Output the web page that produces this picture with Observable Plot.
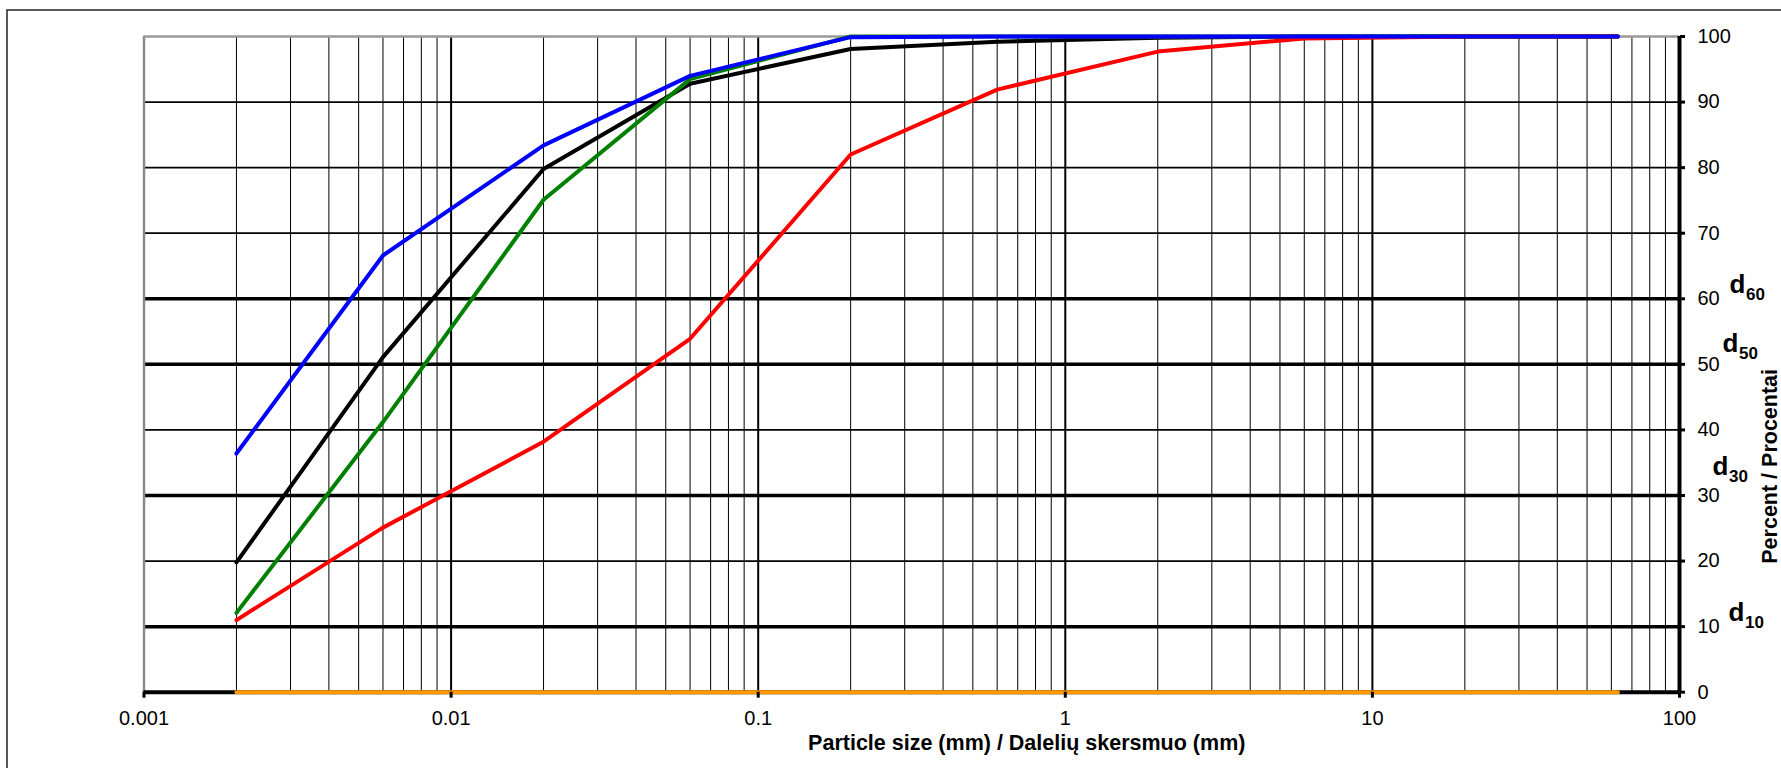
<!DOCTYPE html>
<html><head><meta charset="utf-8">
<script src="https://cdn.jsdelivr.net/npm/d3@7"></script>
<script src="https://cdn.jsdelivr.net/npm/@observablehq/plot@0.6"></script>
<style>
body{margin:0;background:#fff;}
#chart{position:relative;width:1781px;height:768px;overflow:hidden;}
</style>
</head><body><div id="chart"></div>
<script>
// ---- data ----
const sizes = [0.002, 0.006, 0.02, 0.06, 0.2, 0.6, 2, 6, 20, 63];
const blackSeries = [19.8, 51.1, 79.8, 92.8, 98.1, 99.2, 99.8, 100, 100, 100];
const greenSeries = [12.1, 41.2, 75.1, 93.5, 100, 100, 100, 100, 100, 100];
const redSeries   = [11.0, 25.1, 38.2, 53.9, 82.0, 91.9, 97.7, 99.7, 100, 100];
const blueSeries  = [36.4, 66.6, 83.4, 94.0, 99.9, 100, 100, 100, 100, 100];
const orangeSeries = [0, 0, 0, 0, 0, 0, 0, 0, 0, 0];

const xTicks = [0.001, 0.01, 0.1, 1, 10, 100];
const xTickLabels = ["0.001", "0.01", "0.1", "1", "10", "100"];
const yTicks = [0, 10, 20, 30, 40, 50, 60, 70, 80, 90, 100];
const minorMultipliers = [2, 3, 4, 5, 6, 7, 8, 9];
const dLevels = [60, 50, 30, 10];
const dSubs = ["60", "50", "30", "10"];
const xTitle = "Particle size (mm) / Dalelių skersmuo (mm)";
const yTitle = "Percent / Procentai";

// ---- derived ----
const toRows = vals => sizes.map((x, i) => ({x, y: vals[i]}));
const minorX = xTicks.slice(0, -1).flatMap(d => minorMultipliers.map(m => d * m));
const gridY = yTicks.filter(v => v > 0 && v < 100);

// pixel offsets of the d labels (style, not data)
const dOffsets = {60: [50, -5.5], 50: [43, -12.5], 30: [33, -20], 10: [49, -6]};

const font = "'Liberation Sans', Arial, sans-serif";

const marks = [
  // vertical grid
  Plot.ruleX(minorX, {stroke: "#000", strokeWidth: 1}),
  Plot.ruleX(xTicks.slice(1, -1), {stroke: "#000", strokeWidth: 2}),
  // horizontal grid
  Plot.ruleY(gridY, {stroke: "#000", strokeWidth: 1.7}),
  Plot.ruleY(dLevels, {stroke: "#000", strokeWidth: 3.5}),
  // border (left, top)
  Plot.ruleX([0.001], {stroke: "#8a8a8a", strokeWidth: 2.5}),
  Plot.ruleY([100], {stroke: "#9a9a9a", strokeWidth: 2.5}),
  // axis lines
  Plot.ruleX([100], {stroke: "#000", strokeWidth: 4}),
  Plot.ruleY([0], {stroke: "#000", strokeWidth: 4}),
  // series
  Plot.line(toRows(blackSeries), {x: "x", y: "y", stroke: "#000000", strokeWidth: 4}),
  Plot.line(toRows(greenSeries), {x: "x", y: "y", stroke: "#008000", strokeWidth: 4}),
  Plot.line(toRows(redSeries), {x: "x", y: "y", stroke: "#ff0000", strokeWidth: 4}),
  Plot.line(toRows(blueSeries), {x: "x", y: "y", stroke: "#0000ff", strokeWidth: 4}),
  Plot.line(toRows(orangeSeries), {x: "x", y: "y", stroke: "#ff9900", strokeWidth: 4}),
  // axes
  Plot.axisX({ticks: xTicks, tickFormat: d => xTickLabels[xTicks.indexOf(d)], tickSize: 6, strokeWidth: 3,
    tickPadding: 13, fontSize: 20, fill: "#000", label: null}),
  Plot.axisY({anchor: "right", ticks: yTicks, tickSize: 5, strokeWidth: 3, tickPadding: 13,
    fontSize: 20, fill: "#000", label: null}),
  // titles
  Plot.text([xTitle], {frameAnchor: "bottom", dx: 115, dy: 58, fontSize: 21.5, fontWeight: "bold",
    fill: "#000", textAnchor: "middle"}),
  Plot.text([yTitle], {frameAnchor: "right", rotate: -90, dx: 91, dy: 102, fontSize: 21.5,
    fontWeight: "bold", fill: "#000", textAnchor: "middle"})
];

dLevels.forEach((lv, i) => {
  const [dx, dy] = dOffsets[lv];
  marks.push(Plot.text([lv], {x: () => 100, y: d => d, text: () => "d", dx, dy, textAnchor: "start",
    lineAnchor: "bottom", fontSize: 26, fontWeight: "bold", fill: "#000"}));
  marks.push(Plot.text([lv], {x: () => 100, y: d => d, text: () => dSubs[i], dx: dx + 16.5, dy: dy + 7,
    textAnchor: "start", lineAnchor: "bottom", fontSize: 17, fontWeight: "bold", fill: "#000"}));
});

const chart = Plot.plot({
  width: 1781,
  height: 768,
  marginLeft: 143.5,
  marginRight: 102,
  marginTop: 36,
  marginBottom: 76.3,
  style: {fontFamily: font, background: "#fff", overflow: "visible"},
  x: {type: "log", domain: [0.001, 100], axis: null},
  y: {domain: [0, 100], axis: null},
  marks
});

d3.select(chart).insert("rect", ":first-child")
  .attr("x", 7).attr("y", 10).attr("width", 1781).attr("height", 768)
  .attr("fill", "none").attr("stroke", "#222").attr("stroke-width", 1.5);

document.getElementById("chart").appendChild(chart);
</script>
</body></html>
